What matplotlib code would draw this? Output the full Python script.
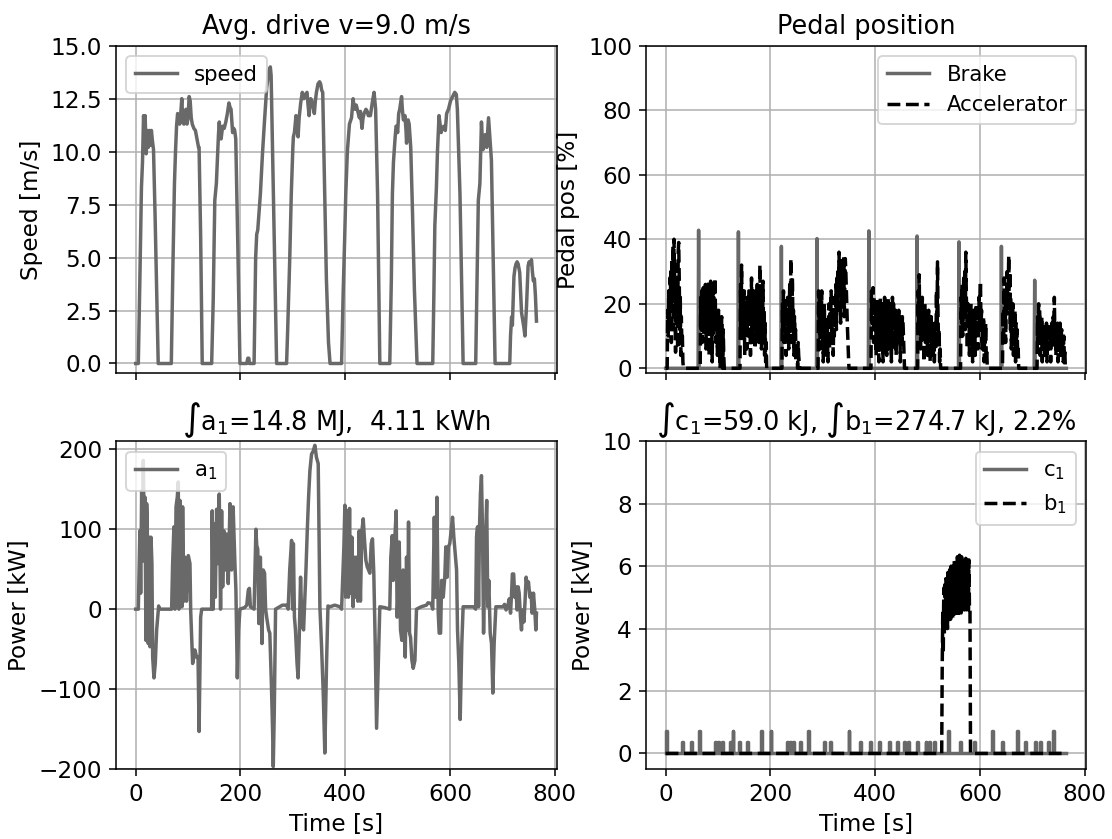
import numpy as np
import matplotlib.pyplot as plt

# ---- speed [m/s] (time, value)
speed_t = [0, 5, 8, 11, 13, 15, 17, 18, 20, 22, 24, 26, 28, 30, 32, 34, 37, 40, 43,
           68, 71, 74, 76, 78, 80, 82, 84, 86, 88, 90, 92, 94, 96, 98, 100, 102, 104, 106, 108, 111, 114, 117, 120, 121, 124, 127,
           145, 148, 151, 154, 156, 158, 159.6, 161, 163, 166, 169, 172, 175, 178, 180, 182, 184, 185, 187, 189, 191, 195, 199,
           212, 214, 216, 217, 226, 229, 231, 233, 238, 242, 246, 250, 254, 257, 258.5, 269,
           288, 290, 294, 297, 300, 301, 303, 306, 308, 310, 312, 315, 318, 321, 324, 327, 329, 331, 333, 334, 336, 338, 341, 343, 345, 348, 351, 353, 355, 357, 360, 364, 368, 371,
           393, 396, 399, 401, 404, 408, 412, 415, 417, 419, 421, 424, 427, 429, 432, 434, 436, 439.5, 442, 444, 448, 451.5, 455, 458, 461.7, 466,
           485, 488, 490, 492, 495, 497, 498, 500, 502, 504, 507.5, 509, 511, 514, 516, 517, 519, 520, 522, 525, 528, 532, 537,
           567, 569, 571, 574, 576, 579, 581, 583, 585, 588, 591, 593.5, 597, 601, 605, 609, 612, 614, 619, 622, 625,
           649, 651, 654, 657, 660, 662, 663, 665, 667, 670, 673.5, 676, 679, 682, 686,
           714, 715.5, 717.5, 719, 722, 724, 726, 728, 730, 733, 735, 736.5, 739, 741, 743, 746, 749, 751, 752.5, 755.5, 757, 759, 761, 763, 765]
speed_v = [0, 0, 4, 8.3, 9.5, 11.7, 10.8, 11.7, 9.9, 11, 10.2, 11, 10.3, 11, 10.5, 10.1, 7, 3.5, 0,
           0, 4.5, 8.5, 10, 11.2, 11.8, 11.5, 11.3, 11.8, 12.5, 11.4, 11.3, 11.9, 12, 11.3, 11.6, 12.6, 12.4, 11.6, 11.3, 11.1, 11, 10.6, 10.2, 10.2, 6, 0,
           0, 3, 7.7, 8.5, 9.6, 10.8, 11.4, 10.8, 10.6, 11.2, 11.1, 11.4, 11.8, 12.3, 12.1, 12, 11.3, 10.9, 11.1, 11, 10.6, 5.5, 0,
           0, 0.25, 0.25, 0, 0, 5, 6.1, 6.3, 8, 9.9, 11.5, 13, 13.8, 14, 13.6, 0,
           0, 1.5, 4.9, 8, 10.2, 10.7, 10.9, 11.7, 11.2, 10.7, 11.6, 12.3, 12.8, 12.5, 12.7, 12.8, 12.2, 11.7, 12.3, 12.5, 12.4, 12.2, 11.8, 12.4, 12.8, 13.2, 13.3, 13.2, 12.9, 12.8, 9, 4, 1, 0,
           0, 3.3, 6, 8, 10, 11.3, 11.6, 12.5, 12.1, 12, 12.2, 11.9, 11.6, 11.9, 11.1, 11.6, 11.8, 12, 11.9, 11.7, 11.7, 12.3, 12.8, 12, 8, 0,
           0, 4, 8, 9.5, 10.6, 11.2, 11.2, 10.9, 11.8, 12, 12.6, 12, 11.5, 11.7, 11, 10.4, 11, 11.5, 11.3, 10.2, 7.5, 3.5, 0,
           0, 3, 6.5, 8.3, 10, 11.7, 11.3, 10.9, 11.1, 11.2, 11, 11.8, 12, 12.4, 12.6, 12.8, 12.7, 12, 8, 4, 0,
           0, 3, 7.7, 8.5, 11.4, 10.4, 10.1, 10.6, 10.8, 10.2, 11.6, 10.7, 9.6, 5.5, 0,
           0, 1.3, 2.2, 1.8, 4.1, 4.5, 4.7, 4.8, 4.7, 4.3, 3.2, 2.4, 2, 1.7, 1.3, 2.7, 4.6, 4.8, 4.7, 4.9, 4.4, 3.9, 4.0, 3.2, 2.0]

# ---- pedal positions [%]
brake_t = [63, 139, 221, 289, 388, 480, 560, 641, 704.5]
brake_peak = [42.8, 42.3, 37.8, 40.2, 42.6, 41, 39.2, 37.8, 27.3]

acc_starts = [2, 66, 142, 222, 291, 392, 481, 563, 643, 709]
acc_values = [
    [0, 0, 18, 10, 24, 14, 28, 20, 30, 8, 34, 22, 38, 12, 40, 30, 20, 5, 26, 14, 32, 6, 36, 39, 28, 12, 22, 4, 16, 8, 10, 2, 0],
    [0, 22, 12, 24, 8, 20, 25, 10, 23, 16, 26, 6, 22, 14, 26, 18, 27, 4, 24, 12, 27, 20, 16, 2, 27, 10, 22, 14, 28, 20, 8, 18,
     12, 4, 16, 18, 6, 14, 0, 10, 2, 16, 8, 0, 12, 4, 0],
    [0, 26, 10, 32, 18, 8, 22, 14, 24, 4, 20, 12, 18, 6, 22, 16, 10, 24, 14, 20, 4, 18, 28, 12, 22, 8, 24, 16, 20, 6, 18, 24,
     10, 26, 14, 20, 8, 22, 32, 16, 24, 6, 20, 12, 27, 10, 18, 4, 14, 2, 8, 0],
    [0, 20, 12, 24, 8, 22, 16, 20, 4, 18, 10, 22, 14, 6, 18, 26, 12, 34, 20, 8, 28, 14, 18, 4, 16, 10, 12, 2, 8, 6, 0, 8, 4, 2, 0],
    [0, 24, 14, 22, 6, 20, 12, 24, 8, 18, 2, 14, 20, 6, 16, 10, 4, 12, 8, 2, 14, 20, 6, 18, 12, 24, 8, 22, 14, 4, 18, 10, 22,
     16, 26, 12, 28, 18, 30, 22, 36, 26, 32, 14, 30, 24, 34, 20, 28, 35, 16, 26, 34, 30, 24, 18, 13, 8, 4, 0],
    [0, 24, 14, 20, 25, 8, 22, 16, 12, 20, 4, 18, 22, 10, 16, 2, 20, 12, 22, 6, 18, 14, 20, 2, 16, 10, 22, 14, 8, 20, 4, 18,
     12, 22, 6, 16, 20, 10, 14, 2, 18, 22, 12, 20, 6, 16, 14, 18, 4, 12, 16, 8, 14, 18, 10, 16, 2, 12, 14, 8, 16, 15, 10, 4, 0],
    [0, 24, 12, 29, 16, 22, 6, 20, 14, 22, 10, 18, 2, 16, 20, 8, 18, 12, 16, 4, 14, 18, 8, 16, 2, 12, 16, 6, 14, 10, 4, 12,
     2, 8, 14, 6, 24, 12, 33, 16, 8, 12, 2, 6, 0],
    [0, 22, 14, 26, 10, 20, 28, 16, 30, 12, 36, 22, 18, 6, 20, 14, 18, 4, 16, 12, 20, 8, 16, 2, 14, 18, 10, 16, 4, 14, 20,
     12, 18, 6, 16, 22, 14, 20, 27, 12, 18, 6, 14, 10, 16, 2, 12, 8, 14, 4, 6, 0],
    [0, 18, 10, 28, 14, 24, 8, 22, 16, 30, 20, 26, 35, 18, 30, 12, 22, 6, 18, 14, 20, 4, 16, 10, 18, 2, 14, 8, 12, 4, 6, 0],
    [0, 16, 8, 20, 12, 18, 4, 14, 10, 16, 2, 12, 8, 14, 4, 10, 12, 6, 14, 2, 10, 12, 6, 14, 8, 12, 2, 10, 14, 6, 12, 16, 8,
     22, 10, 14, 4, 12, 8, 14, 2, 10, 12, 6, 14, 4, 10, 12, 6, 8, 2, 10, 4, 6, 0],
]

# ---- traction power a1 [kW]
a1_t = [0, 5, 8, 9.5, 11.4, 13, 14.5, 15.8, 17.7, 19.6, 20.9, 22, 24, 26, 27.3, 29.2, 31, 32.4, 34.9, 37.4, 40, 43.8, 45,
        68.6, 70.5, 73, 75, 77, 79.4, 81.3, 82.5, 84.5, 86.5, 88.3, 89.6, 92, 94, 97, 100.4, 103.6, 105, 106.8, 108.7, 111,
        113, 116.3, 119, 121, 124, 126,
        145, 146, 148, 150, 152, 154.5, 156.4, 159.5, 162, 164, 166, 168.5, 171, 173.5, 176.7, 180, 183, 186, 189.4, 191.3,
        194, 196.4, 199, 208, 212, 215, 217, 219, 226,
        229.5, 231, 233, 235, 238, 241, 243.5, 246, 248, 250, 253.7, 256, 259, 261.3, 262.6, 264.5, 267, 280, 288,
        291, 294, 297.6, 299.5, 301, 303, 305, 308, 310, 312, 314.7, 316.5, 318.5, 320.5, 323, 325, 327.5, 330, 332.5, 335.7,
        339, 342, 345, 348.4, 351.6, 354.8, 358, 361, 364.3, 367, 371, 380, 390,
        393, 397.4, 399.3, 401, 403.8, 406, 408.2, 410, 412.7, 415, 417.2, 419, 421, 424, 426.7, 429, 431.8, 434.3, 436.8,
        439.4, 442, 444.5, 447, 449.6, 452, 454.5, 457.2, 459.8, 463, 466, 475,
        485, 487, 489.7, 491.5, 494.7, 497.3, 499, 501, 503, 505.5, 508, 510.5, 512.5, 514.5, 517, 519, 520.8, 522.7, 524.6,
        527.2, 529.7, 533, 536, 545, 555, 558, 564,
        567, 570, 572.5, 575, 577.5, 579.3, 582, 584, 587, 590, 592, 594.5, 597, 599.5, 602, 604.8, 607.3, 610, 612.5, 614.3,
        616.8, 619.4, 622.5, 625, 635, 645,
        649, 650.6, 652.5, 654.5, 656.3, 658, 660, 662, 664, 666.4, 668.3, 670, 672, 674, 676.7, 679.2, 681.7, 684.2, 687.5,
        695, 701, 704, 707, 710, 713, 715.5, 717.5, 719, 721.5, 723.5, 725.6, 728, 730, 732, 734.5, 736.4, 738.3, 741, 743,
        745.3, 747.2, 749.8, 752.3, 754.8, 756.7, 759.3, 761.8, 763.8, 765]
a1_v = [0, 0, 98, 20, 148, 60, 186, 120, 140, -39, 132, 110, -43, 90, -47, 90, 57, -60, -86, -68, -26, 4, 0,
        0, 57, 103, 0, 128, 140, 159, 0, 136, 110, 3, 128, 10, 65, 10, 67, 57, -2, -35, -68, -60,
        -51, -60, -60, -153, -10, 0,
        0, 123, 0, 107, 15, 125, 57, 144, 0, 123, 28, 98, 49, 94, 32, 132, 49, 128, 57, 24,
        -86, -26, 0, 2, 5, 24, 26, 3, 0,
        100, 80, 75, -18, 65, -43, 49, 45, 0, -10, -26, -30, -93, -151, -197, -130, 0, 5, 5,
        0, 49, 86, 0, 82, -10, -26, -68, -86, -40, 40, 0, -22, -26, 15, 49, 98, 140, 173, 194,
        198, 205, 190, 182, 3, -47, -105, -180, -68, 4, 3, 5, 3,
        0, 78, 130, 15, 123, 15, 126, 20, 90, 3, 65, 15, 65, 10, 98, 10, 98, 113, 86,
        61, 53, 49, 45, 82, 88, 45, -43, -149, -68, 3, 2,
        0, 65, 92, 36, 90, 123, -10, 20, 84, -26, -39, 49, -26, -60, 65, -26, 109, -30, -35,
        -64, -74, -64, 0, 3, 5, 8, 7,
        0, 115, 15, 140, -5, -30, -30, 36, 15, 40, 78, 40, 78, 82, 98, 115, 90, 69, 49, -26,
        -68, -138, -43, 3, 3, 3,
        0, 90, 103, 3, 103, 144, 167, 98, -30, 57, 98, 136, 3, 36, -30, -43, -105, -43, 3,
        3, 3, 6, -1, 3, 13, -5, 20, 44, 44, 15, 28, -1, 28, 20, -10, -26, -1, -16, 7,
        40, 30, 34, 15, 20, -5, 20, -1, -26, -5]

# ---- auxiliary power c1 and b1 [kW]
c1_t = [1, 31.6, 48.7, 65, 95, 101, 108, 123.4, 128.5, 141, 157, 183.6, 201.3, 232, 238.6, 244, 258, 272,
        304, 314.6, 350, 372, 391, 408.5, 427.5, 443, 456, 464, 481, 497, 503, 513, 540, 563.6, 589, 624,
        643, 671, 687, 706, 715.5, 731, 741]
c1_h = [0.73, 0.37, 0.37, 0.73, 0.37, 0.37, 0.37, 0.37, 0.73, 0.37, 0.37, 0.73, 0.73, 0.37, 0.37, 0.37, 0.37, 0.73,
        0.37, 0.37, 0.73, 0.37, 0.37, 0.37, 0.37, 0.37, 0.37, 0.37, 0.37, 0.37, 0.37, 0.37, 0.73, 0.37, 0.37, 0.73,
        0.37, 0.73, 0.37, 0.37, 0.37, 0.37, 0.73]

b1_start = 527
b1_values = [0, 2.8, 4.5, 3.2, 5.3, 3.8, 5.5, 4.0, 5.6, 4.1, 5.4, 4.0, 5.8, 4.2, 5.7, 4.3, 5.9, 4.3, 6.0, 4.4, 5.8,
             4.3, 6.1, 4.4, 6.2, 4.5, 6.0, 4.4, 6.2, 4.6, 6.3, 4.4, 6.1, 4.5, 6.35, 4.6, 6.2, 4.5, 6.3, 4.7, 6.1,
             4.5, 6.25, 4.6, 6.2, 4.7, 6.25, 4.6, 6.2, 4.7, 6.1, 4.6, 6.2, 4.6, 4.6, 0]

t_end = 765
gris = 'dimgray'
lw = 1.8

plt.rcParams['font.size'] = 11
plt.rcParams['xtick.labelsize'] = 12
plt.rcParams['ytick.labelsize'] = 12
plt.rcParams['axes.labelsize'] = 12
plt.rcParams['axes.titlesize'] = 13.3

# construimos las series de pedal
br_t, br_v = [0], [0]
for t, p in zip(brake_t, brake_peak):
    br_t += [t - 1, t, t + 1]
    br_v += [0, p, 0]
br_t.append(t_end)
br_v.append(0)

ac_t, ac_v = [0], [0]
for t0, vals in zip(acc_starts, acc_values):
    ac_t += [t0 + i for i in range(len(vals))]
    ac_v += vals
ac_t.append(t_end)
ac_v.append(0)

# pulsos de c1
c_t, c_v = [0], [0]
for t, h in zip(c1_t, c1_h):
    c_t += [t - 0.8, t - 0.8, t + 0.8, t + 0.8]
    c_v += [0, h, h, 0]
c_t.append(t_end)
c_v.append(0)

b_t = [0] + [b1_start + i for i in range(len(b1_values))] + [t_end]
b_v = [0] + b1_values + [0]

fig, axs = plt.subplots(2, 2, sharex=True, figsize=(8, 839 / 139), dpi=139)
fig.subplots_adjust(left=0.104, right=0.977, top=0.9455, bottom=0.0834, wspace=0.202, hspace=0.207)

ax = axs[0, 0]
ax.plot(speed_t, speed_v, color=gris, lw=lw, label='speed')
ax.set_ylim(-0.47, 15)
ax.set_yticks(np.arange(0, 15.1, 2.5))
ax.set_title('Avg. drive v=9.0 m/s')
ax.set_ylabel('Speed [m/s]')
ax.legend(loc='upper left')
ax.grid(True)

ax = axs[0, 1]
ax.plot(br_t, br_v, color=gris, lw=lw, label='Brake')
ax.plot(ac_t, ac_v, 'k--', lw=lw, label='Accelerator')
ax.set_ylim(-1.6, 100)
ax.set_title('Pedal position')
ax.set_ylabel('Pedal pos [%]')
ax.legend(loc='upper right')
ax.grid(True)

ax = axs[1, 0]
ax.plot(a1_t, a1_v, color=gris, lw=lw, label=r'a$_1$')
ax.set_ylim(-200, 210)
ax.set_title(r'$\int$a$_1$=14.8 MJ,  4.11 kWh')
ax.set_ylabel('Power [kW]')
ax.set_xlabel('Time [s]')
ax.legend(loc='upper left')
ax.grid(True)

ax = axs[1, 1]
ax.plot(c_t, c_v, color=gris, lw=lw, label=r'c$_1$')
ax.plot(b_t, b_v, 'k--', lw=lw, label=r'b$_1$')
ax.set_ylim(-0.5, 10)
ax.set_title(r'$\int$c$_1$=59.0 kJ, $\int$b$_1$=274.7 kJ, 2.2%')
ax.set_ylabel('Power [kW]')
ax.set_xlabel('Time [s]')
ax.legend(loc='upper right')
ax.grid(True)

plt.savefig('out.png', dpi=139)
